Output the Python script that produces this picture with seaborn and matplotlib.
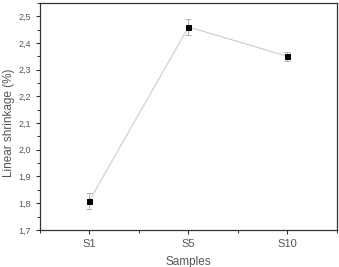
import matplotlib
matplotlib.use("Agg")
import matplotlib.pyplot as plt
import seaborn as sns
import pandas as pd
from matplotlib.ticker import MultipleLocator, FuncFormatter

samples = ["S1", "S5", "S10"]
shrinkage = [1.81, 2.46, 2.35]
errors = [0.03, 0.03, 0.018]

sns.set_style("ticks")
plt.rcParams['font.family'] = ['Liberation Sans', 'DejaVu Sans']

df = pd.DataFrame({"Samples": samples, "Shrinkage": shrinkage})

fig = plt.figure(figsize=(3.39, 2.67), dpi=100)
ax = fig.add_axes([0.118, 0.139, 0.876, 0.85])

pos = list(range(len(samples)))
ax.errorbar(pos, shrinkage, yerr=errors, fmt='none', ecolor='#b0b0b0',
            elinewidth=0.7, capsize=2, capthick=0.7, zorder=2)
sns.lineplot(data=df, x="Samples", y="Shrinkage", ax=ax, color='#cccccc',
             linewidth=0.8, marker='s', markersize=3.6, markerfacecolor='black',
             markeredgecolor='black', sort=False, zorder=3)

ax.set_xlim(-0.5, 2.5)
ax.set_ylim(1.7, 2.55)
ax.set_xticks(pos)
ax.set_xticklabels(samples)
ax.xaxis.set_minor_locator(MultipleLocator(0.5))
ax.yaxis.set_major_locator(MultipleLocator(0.1))
ax.yaxis.set_minor_locator(MultipleLocator(0.05))
ax.yaxis.set_major_formatter(FuncFormatter(lambda v, p: f"{v:.1f}".replace('.', ',')))

ax.tick_params(axis='both', which='major', direction='out', length=3, width=0.8,
               colors='#333333', labelsize=6.5, labelcolor='#555555')
ax.tick_params(axis='x', which='major', labelsize=8)
ax.tick_params(axis='both', which='minor', direction='out', length=2, width=0.7, colors='#333333')
ax.tick_params(top=False, right=False, which='both')

for s in ax.spines.values():
    s.set_color('#333333')
    s.set_linewidth(0.9)

ax.set_xlabel("Samples", fontsize=8.5, color='#555555', labelpad=5)
ax.set_ylabel("Linear shrinkage (%)", fontsize=8.5, color='#555555')
ax.yaxis.set_label_coords(-0.083, 0.47)

fig.savefig("out.png", dpi=100)
